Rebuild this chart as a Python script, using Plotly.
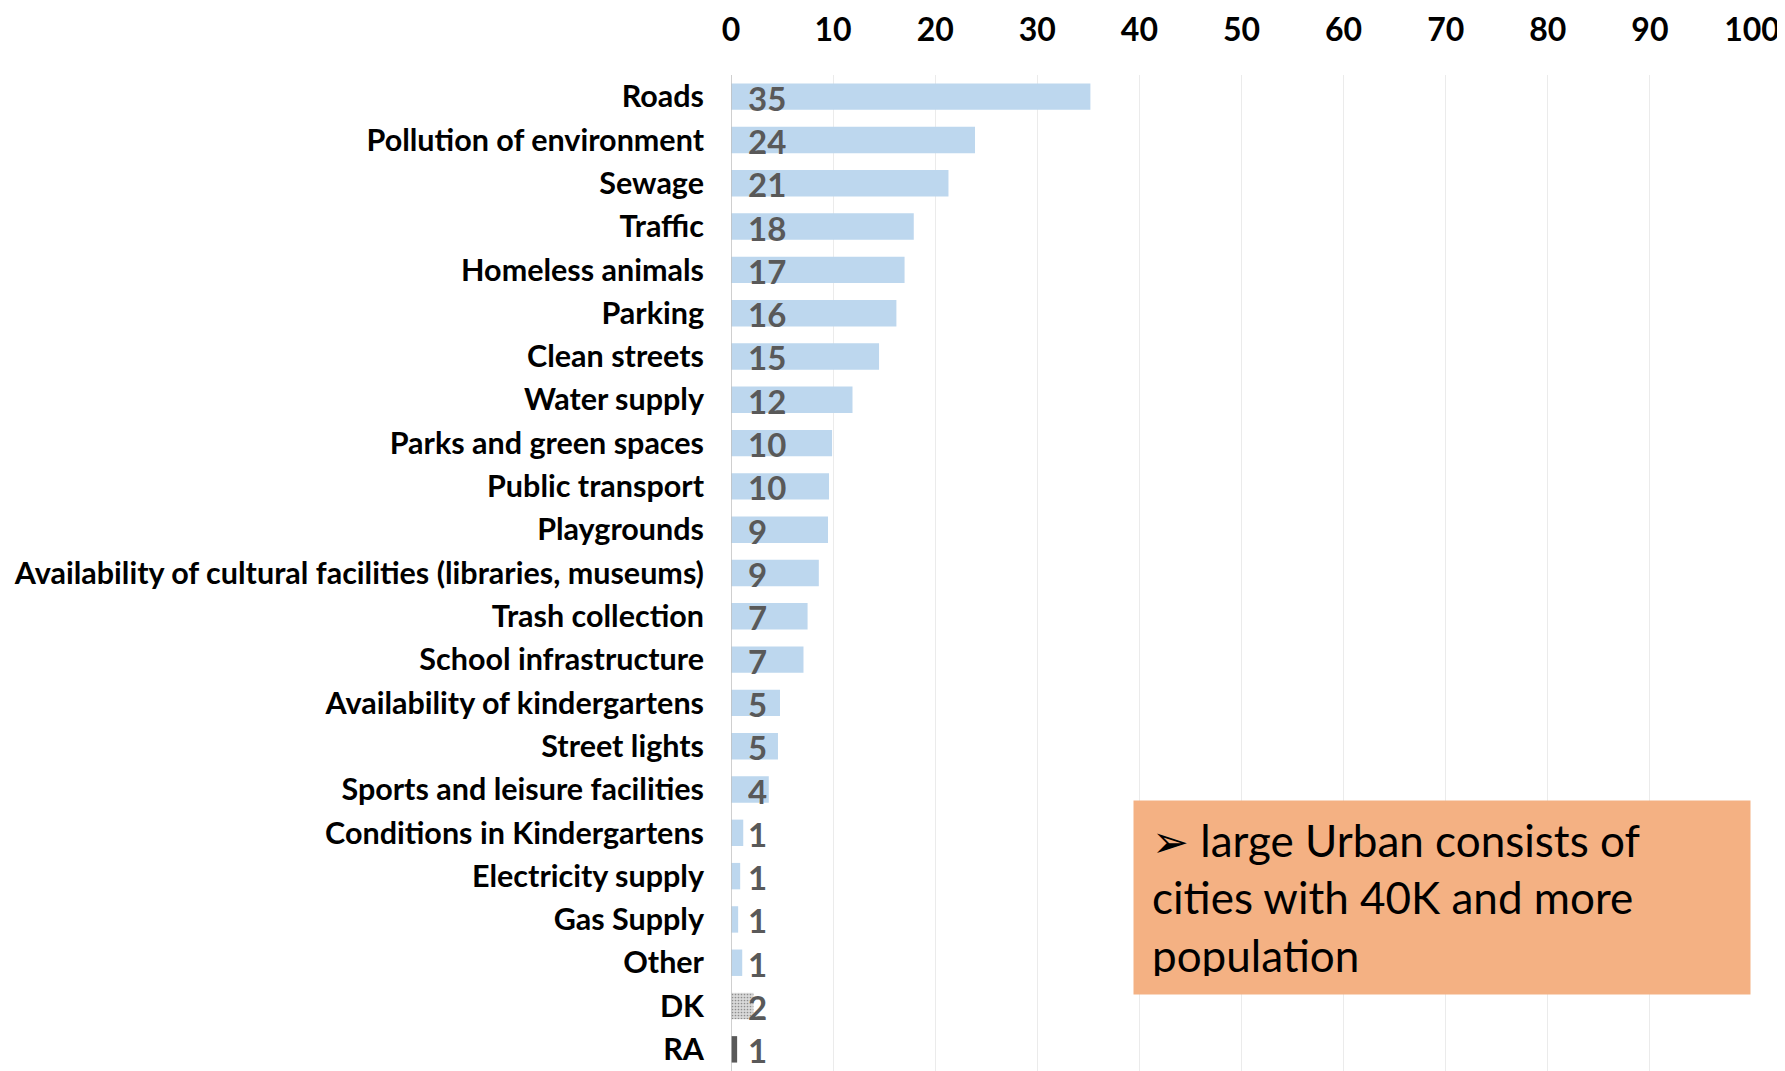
import plotly.graph_objects as go

categories = [
    "Roads", "Pollution of environment", "Sewage", "Traffic", "Homeless animals",
    "Parking", "Clean streets", "Water supply", "Parks and green spaces",
    "Public transport", "Playgrounds",
    "Availability of cultural facilities (libraries, museums)", "Trash collection",
    "School infrastructure", "Availability of kindergartens", "Street lights",
    "Sports and leisure facilities", "Conditions in Kindergartens",
    "Electricity supply", "Gas Supply", "Other", "DK", "RA",
]
values = [35.2, 23.9, 21.3, 17.9, 17.0, 16.2, 14.5, 11.9, 9.9, 9.6, 9.5, 8.6,
          7.5, 7.1, 4.8, 4.6, 3.7, 1.2, 0.9, 0.7, 1.1, 2.2, 0.6]
value_labels = ["35", "24", "21", "18", "17", "16", "15", "12", "10", "10", "9", "9",
                "7", "7", "5", "5", "4", "1", "1", "1", "1", "2", "1"]
x_ticks = [0, 10, 20, 30, 40, 50, 60, 70, 80, 90, 100]
note_text = "➢ large Urban consists of<br>cities with 40K and more<br>population"

BLUE = "#BDD7EE"
colors = [BLUE] * len(categories)
shapes = [""] * len(categories)
colors[categories.index("DK")] = "#D9D9D9"
shapes[categories.index("DK")] = "."
colors[categories.index("RA")] = "#595959"

fig = go.Figure()
fig.add_trace(go.Bar(
    y=categories, x=values, orientation="h", width=0.61,
    marker=dict(color=colors, line=dict(width=0),
                pattern=dict(shape=shapes, fgcolor="#C4C4C4", bgcolor="#DCDCDC",
                             size=3, solidity=0.25)),
    showlegend=False, hoverinfo="skip",
))

for cat, lab in zip(categories, value_labels):
    fig.add_annotation(x=0, y=cat, xref="x", yref="y", text=lab, showarrow=False,
                       xanchor="left", yanchor="middle", xshift=15, yshift=-1,
                       height=30, valign="middle",
                       font=dict(family="Lato", size=33, color="#595959", weight="bold"))

fig.add_annotation(
    xref="paper", yref="paper", x=0.394, y=0.272, xanchor="left", yanchor="top",
    text=note_text, showarrow=False, align="left", valign="middle",
    width=580, height=157, borderpad=18, bgcolor="#F4B183",
    font=dict(family="Lato", size=44, color="#000000"),
)

n = len(categories)
# page body adds an 8px offset; margins compensate for it
fig.update_layout(
    width=1785, height=1071,
    margin=dict(l=723, r=41, t=67, b=8),
    paper_bgcolor="white", plot_bgcolor="white",
    bargap=0.39,
    xaxis=dict(side="top", range=[0, 100], tickvals=x_ticks, automargin=False,
               showgrid=True, gridcolor="#EBEBEB", gridwidth=1,
               zeroline=False, showline=False, ticks="",
               ticklabelstandoff=27,
               tickfont=dict(family="Lato", size=32, color="#000000", weight="bold")),
    yaxis=dict(range=[n - 0.5, -0.5], showgrid=False, zeroline=False, automargin=False,
               showline=False, ticks="", ticklabelstandoff=26,
               tickfont=dict(family="Lato", size=30.5, color="#000000", weight="bold")),
    shapes=[dict(type="line", xref="x", yref="paper", x0=0, x1=0, y0=0, y1=1,
                 line=dict(color="#BFBFBF", width=1.5), layer="above")],
)

fig.write_html("out.html")
